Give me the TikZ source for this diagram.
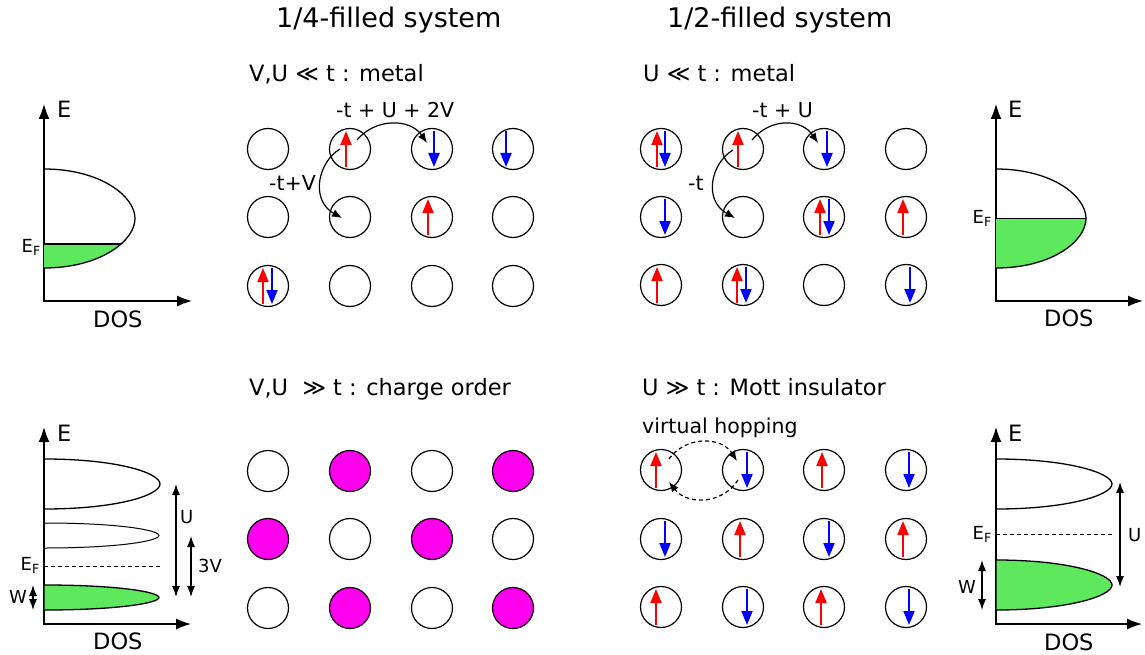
\documentclass[tikz,border=0pt]{standalone}
\usepackage{fontspec}
\setmainfont{DejaVu Sans}
\usetikzlibrary{calc,arrows.meta}

\definecolor{spinup}{RGB}{255,0,0}
\definecolor{spindn}{RGB}{0,0,255}
\definecolor{chargemag}{RGB}{255,0,238}
\definecolor{occupied}{RGB}{94,232,94}

\tikzset{
  site/.style={circle, draw, line width=1.2pt, minimum size=41pt, inner sep=0pt},
  upspin/.style={spinup, line width=2pt, -{Triangle[length=14pt,width=11pt]}},
  dnspin/.style={spindn, line width=2pt, -{Triangle[length=14pt,width=11pt]}},
  hop/.style={line width=1.2pt, -{Latex[length=10pt,width=8pt]}},
  axis/.style={line width=1.4pt, {Latex[length=15pt,width=11pt]}-{Latex[length=15pt,width=11pt]}},
  gap/.style={line width=1.2pt, {Latex[length=11pt,width=8pt]}-{Latex[length=11pt,width=8pt]}},
  band/.style={line width=1.3pt},
  fermi/.style={line width=0.8pt, dash pattern=on 4pt off 3pt},
  txt/.style={inner sep=0pt, anchor=base west},
  title/.style={txt, font=\fontsize{27}{32}\selectfont},
  lbl/.style={txt, font=\fontsize{22.5}{27}\selectfont},
  hoplbl/.style={txt, font=\fontsize{20.5}{25}\selectfont},
  small/.style={txt, font=\fontsize{18}{22}\selectfont},
  eflbl/.style={inner sep=0pt, anchor=base east, font=\fontsize{18}{22}\selectfont},
}

\begin{document}
\begin{tikzpicture}[x=1pt, y=-1pt]
  \useasboundingbox (0,0) rectangle (1145,655);

  % titles and regimes
  \node[title] (tq) at (276,28) {1/4-filled system};
  \node[title] (th) at (667,28) {1/2-filled system};
  \node[lbl] (cqm) at (249,82) {V,U ≪ t : metal};
  \node[lbl] (chm) at (643,82) {U ≪ t : metal};
  \node[lbl] (cqc) at (249,395) {V,U\ \ ≫ t : charge order};
  \node[lbl] (chi) at (642,395) {U ≫ t : Mott insulator};

  % sites: qm, qc (1/4), hm, hi (1/2)
  \foreach \c/\x in {1/268,2/350,3/432,4/513}{
    \foreach \r/\y in {1/149,2/217,3/286}
      \node[site] (qm-\c-\r) at (\x,\y) {};
    \foreach \r/\y in {1/471,2/539,3/608}{
      \pgfmathtruncatemacro\k{\c+\r}
      \ifodd\k \def\col{chargemag}\else\def\col{white}\fi
      \node[site, fill=\col] (qc-\c-\r) at (\x,\y) {};
    }
  }
  \foreach \c/\x in {1/661,2/743,3/824,4/906}{
    \foreach \r/\y in {1/149,2/217,3/285}
      \node[site] (hm-\c-\r) at (\x,\y) {};
    \foreach \r/\y in {1/470,2/539,3/607}
      \node[site] (hi-\c-\r) at (\x,\y) {};
  }

  % spins
  \foreach \s/\dx in {qm-2-1/-4, qm-3-2/-4, qm-1-3/-5,
      hm-1-1/-4, hm-2-1/-5, hm-3-2/-4, hm-4-2/-3, hm-1-3/-4, hm-2-3/-6,
      hi-1-1/-5, hi-3-1/-2, hi-2-2/-3, hi-4-2/-3, hi-1-3/-5, hi-3-3/-3}
    \draw[upspin] ($(\s)+(\dx,18)$) -- ++(0,-36);
  \foreach \s/\dx in {qm-3-1/2, qm-4-1/-7, qm-1-3/4,
      hm-1-1/4, hm-3-1/3, hm-1-2/4, hm-3-2/5, hm-2-3/3, hm-4-3/4,
      hi-2-1/4, hi-4-1/3, hi-1-2/4, hi-3-2/5, hi-2-3/4, hi-4-3/3}
    \draw[dnspin] ($(\s)+(\dx,-18)$) -- ++(0,36);

  % hoppings
  \draw[hop] ($(qm-2-1)+(7,-9)$) .. controls +(18,-22) and +(-17,-25) .. ($(qm-3-1)+(-5,-6)$);
  \draw[hop] ($(qm-2-1)+(-10,0)$) .. controls +(-22,13) and +(-32,-18) .. ($(qm-2-2)+(-8,1)$);
  \node[hoplbl] (lq1) at (336,118) {-t + U + 2V};
  \node[hoplbl] (lq2) at (269,191) {-t+V};

  \draw[hop] ($(hm-2-1)+(9,-9)$) .. controls +(18,-22) and +(-17,-25) .. ($(hm-3-1)+(-6,-6)$);
  \draw[hop] ($(hm-2-1)+(-10,1)$) .. controls +(-22,13) and +(-32,-18) .. ($(hm-2-2)+(-8,1)$);
  \node[hoplbl] (lh1) at (752,118) {-t + U};
  \node[hoplbl] (lh2) at (688,190) {-t};

  \draw[hop, dash pattern=on 4pt off 3pt] ($(hi-1-1)+(8,-11)$) .. controls +(16,-23) and +(-16,-25) .. ($(hi-2-1)+(-6,-9)$);
  \draw[hop, dash pattern=on 4pt off 3pt] ($(hi-2-1)+(-5,10)$) .. controls +(-16,25) and +(18,23) .. ($(hi-1-1)+(8,12)$);
  \node[hoplbl] (vh) at (642,433) {virtual hopping};

  % DOS, 1/4 metal
  \draw[axis] (44,104) |- (192,301);
  \begin{scope}
    \clip (44,169) .. controls (100,169) and (135,196) .. (135,218.5)
      .. controls (135,241) and (100,268) .. (44,268) -- cycle;
    \fill[occupied] (44,244) rectangle (140,270);
    \draw[band] (44,244) -- (140,244);
  \end{scope}
  \draw[band] (44,169) .. controls (100,169) and (135,196) .. (135,218.5)
    .. controls (135,241) and (100,268) .. (44,268);
  \node[lbl] (eqm) at (57,118) {E};
  \node[lbl] (dqm) at (93,327) {DOS};
  \node[eflbl] (fqm) at (41,252) {E\textsubscript{F}};

  % DOS, 1/2 metal
  \draw[axis] (996,104) |- (1143,301);
  \begin{scope}
    \clip (996,169) .. controls (1052,169) and (1086,196) .. (1086,218.5)
      .. controls (1086,241) and (1052,268) .. (996,268) -- cycle;
    \fill[occupied] (996,218.5) rectangle (1090,270);
    \draw[band] (996,218.5) -- (1090,218.5);
  \end{scope}
  \draw[band] (996,169) .. controls (1052,169) and (1086,196) .. (1086,218.5)
    .. controls (1086,241) and (1052,268) .. (996,268);
  \node[lbl] (ehm) at (1008,118) {E};
  \node[lbl] (dhm) at (1044,326) {DOS};
  \node[eflbl] (fhm) at (992,223) {E\textsubscript{F}};

  % DOS, charge order
  \draw[axis] (44,427) |- (191,624);
  \draw[band] (44,459) .. controls (118,459) and (160,473) .. (160,484)
    .. controls (160,495) and (118,509) .. (44,509);
  \draw[line width=1pt] (44,523) .. controls (118,523) and (159,530) .. (159,535.5)
    .. controls (159,541) and (118,548) .. (44,548);
  \draw[band, fill=occupied] (44,585) .. controls (118,585) and (159,592) .. (159,597.5)
    .. controls (159,603) and (118,610) .. (44,610) -- cycle;
  \draw[fermi] (44,566) -- (161,566);
  \draw[gap] (33,585) -- (33,610);
  \draw[gap] (176,484) -- (176,597);
  \draw[gap] (191,536) -- (191,597);
  \node[lbl] (eqc) at (57,441) {E};
  \node[lbl] (dqc) at (93,649) {DOS};
  \node[eflbl] (fqc) at (40,570) {E\textsubscript{F}};
  \node[small] (wqc) at (9,603) {W};
  \node[small] (uqc) at (180,523) {U};
  \node[small] (vqc) at (198,572) {3V};

  % DOS, Mott insulator
  \draw[axis] (996,427) |- (1142,624);
  \draw[band] (996,459) .. controls (1068,459) and (1112,473) .. (1112,484)
    .. controls (1112,495) and (1068,509) .. (996,509);
  \draw[band, fill=occupied] (996,560) .. controls (1068,560) and (1112,574) .. (1112,585)
    .. controls (1112,596) and (1068,610) .. (996,610) -- cycle;
  \draw[fermi] (996,534) -- (1112,534);
  \draw[gap] (982,560) -- (982,610);
  \draw[gap] (1120,482) -- (1120,587);
  \node[lbl] (ehi) at (1008,441) {E};
  \node[lbl] (dhi) at (1044,650) {DOS};
  \node[eflbl] (fhi) at (992,539) {E\textsubscript{F}};
  \node[small] (whi) at (958,593) {W};
  \node[small] (uhi) at (1128,541) {U};
\end{tikzpicture}
\end{document}
